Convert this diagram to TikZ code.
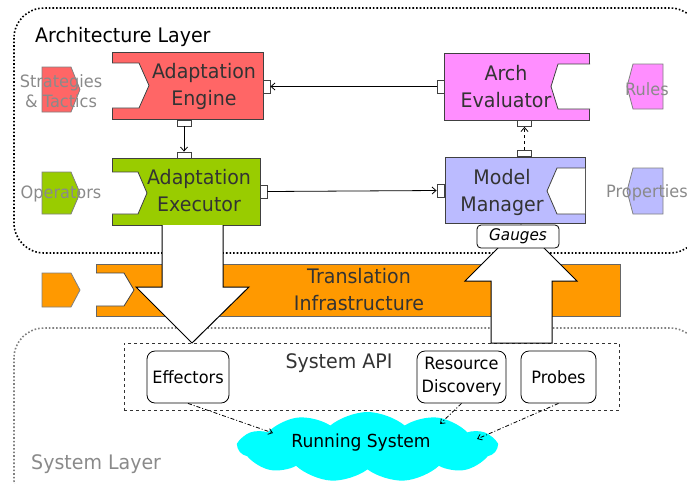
\documentclass[tikz,border=0pt]{standalone}
\usepackage{fontspec}
\setmainfont{DejaVu Sans}[FakeStretch=0.95]
\usetikzlibrary{shapes.symbols,arrows.meta}
\definecolor{engred}{HTML}{FF6666}
\definecolor{exegreen}{HTML}{99CC00}
\definecolor{evalpink}{HTML}{FF8EFF}
\definecolor{mmblue}{HTML}{BBBBFF}
\definecolor{orng}{HTML}{FF9900}
\definecolor{cloudcyan}{HTML}{00FFFF}
\definecolor{boxline}{HTML}{404040}
\definecolor{txt}{HTML}{333333}
\definecolor{sidetxt}{HTML}{8A8A8A}
\begin{document}
\begin{tikzpicture}[x=1pt,y=-1pt,
  comp/.style={draw=boxline, line width=0.8pt, inner sep=0},
  hport/.style={draw=boxline, fill=white, line width=0.8pt, inner sep=0, minimum width=7pt, minimum height=13pt},
  vport/.style={draw=boxline, fill=white, line width=0.8pt, inner sep=0, minimum width=14pt, minimum height=6pt},
  inport/.style={draw=boxline, fill=white, line width=0.8pt},
  sidetag/.style={draw=gray, line width=0.8pt},
  lbl/.style={font=\fontsize{20}{27}\selectfont, text=txt, align=center, inner sep=0},
  sidelbl/.style={font=\fontsize{17}{20}\selectfont, text=sidetxt, align=center, inner sep=0},
  conn/.style={draw=black, line width=0.8pt, -{Straight Barb[length=4pt,width=7pt]}},
  ddconn/.style={draw=black, line width=0.8pt, dash pattern=on 4pt off 2pt on 1pt off 2pt, -{Straight Barb[length=4pt,width=6pt]}},
  sysbox/.style={draw=black, line width=0.8pt, rounded corners=8pt, inner sep=0, fill=white, font=\fontsize{17}{23}\selectfont, align=center},
  bigarrow/.style={draw=black, fill=white, line width=1pt, line join=miter}
]
\useasboundingbox (0,0) rectangle (687,483);
\clip (0,0) rectangle (687,483);

% layers
\draw[black, line width=1.6pt, dotted, rounded corners=30pt] (14,8) rectangle (700,253);
\draw[gray, line width=1.6pt, dotted, rounded corners=30pt] (14,328) rectangle (700,510);
\node[anchor=west, font=\fontsize{20}{24}\selectfont, inner sep=0] (archt) at (35,37) {Architecture Layer};
\node[anchor=west, font=\fontsize{20}{24}\selectfont, text=sidetxt, inner sep=0] (syst) at (31,464) {System Layer};

% translation infrastructure band
\node[comp, draw=boxline!80, fill=orng, minimum width=524pt, minimum height=52pt] (trans) at (358,290) {};
\draw[inport] (96,273) -- (124,273) -- (134,290) -- (124,306) -- (96,306);
\draw[sidetag, fill=orng] (42,273) -- (71,273) -- (80,290) -- (71,307) -- (42,307) -- cycle;
\node[lbl] (translbl) at (359,290) {Translation\\Infrastructure};

% Adaptation Engine
\node[comp, fill=engred, minimum width=151pt, minimum height=67pt] (eng) at (187.5,85.5) {};
\draw[inport] (112,63) -- (139,63) -- (149,85.5) -- (139,108) -- (112,108);
\node[lbl] (englbl) at (204,86) {Adaptation\\Engine};
\node[hport] (engR) at (266.5,86.5) {};
\node[vport] (engB) at (184,123) {};

% Adaptation Executor
\node[comp, fill=exegreen, minimum width=148pt, minimum height=67pt] (exe) at (186,191.5) {};
\draw[inport] (112,172) -- (138,172) -- (147,193) -- (138,214) -- (112,214);
\node[lbl] (exelbl) at (199,191) {Adaptation\\Executor};
\node[hport] (exeR) at (263.5,191.5) {};
\node[vport] (exeT) at (184,155) {};

% Arch Evaluator
\node[comp, fill=evalpink, minimum width=145pt, minimum height=67pt] (eval) at (516.5,86.5) {};
\draw[inport] (590,64) -- (558,64) -- (551,86.5) -- (558,109) -- (590,109);
\node[lbl] (evallbl) at (506,87) {Arch\\Evaluator};
\node[hport] (evalL) at (441,86.5) {};
\node[vport] (evalB) at (524.5,123.5) {};

% Model Manager
\node[comp, fill=mmblue, minimum width=140pt, minimum height=66pt] (mm) at (515,190) {};
\draw[inport] (585,168) -- (557,168) -- (547,191) -- (557,214) -- (585,214);
\node[lbl] (mmlbl) at (502,192) {Model\\Manager};
\node[hport] (mmL) at (440.5,190.5) {};
\node[vport] (mmT) at (524.5,153.5) {};

% side tags
\draw[sidetag, fill=engred] (42,67) -- (71,67) -- (80,89.5) -- (71,112) -- (42,112) -- cycle;
\node[sidelbl] (stratlbl) at (61,91) {Strategies\\\& Tactics};
\draw[sidetag, fill=exegreen] (42,172) -- (71,172) -- (80,193) -- (71,214) -- (42,214) -- cycle;
\node[sidelbl] (oplbl) at (61,194) {Operators};
\draw[sidetag, fill=evalpink] (663,64) -- (633,64) -- (627,86.5) -- (633,109) -- (663,109) -- cycle;
\node[sidelbl] (ruleslbl) at (647,89) {Rules};
\draw[sidetag, fill=mmblue] (663,168) -- (633,168) -- (627,191) -- (633,214) -- (663,214) -- cycle;
\node[sidelbl] (proplbl) at (647,193) {Properties};

% connectors in architecture layer
\draw[conn] (evalL.west) -- (engR.east);
\draw[conn] (engB.south) -- (exeT.north);
\draw[conn] (exeR.east) -- (mmL.west);
\draw[conn, dashed] (mmT.north) -- (evalB.south);

% System API
\node[draw=black!80, dashed, line width=0.8pt, minimum width=495pt, minimum height=67pt, inner sep=0] (api) at (371.5,376.5) {};
\node[font=\fontsize{20}{24}\selectfont, text=txt, inner sep=0] (apilbl) at (339,363) {System API};

% big arrows
\draw[bigarrow] (162,225) -- (162,287) -- (136,287) -- (192,343) -- (249,287) -- (223,287) -- (223,225);
\draw[bigarrow] (491,343) -- (491,281) -- (465,281) -- (521,225) -- (577,281) -- (552,281) -- (552,343) -- cycle;

% Gauges
\node[draw=black, line width=0.8pt, fill=white, rounded corners=4pt, minimum width=82pt, minimum height=23pt, inner sep=0, font=\itshape\fontsize{16}{18}\selectfont] (gauges) at (518,236.5) {Gauges};

% system elements
\node[sysbox, minimum width=82pt, minimum height=52pt] (eff) at (188,377) {Effectors};
\node[sysbox, minimum width=89pt, minimum height=52pt] (rd) at (461.5,377) {Resource\\Discovery};
\node[sysbox, minimum width=75pt, minimum height=52pt] (pr) at (558.5,377) {Probes};

% running system cloud
\node[cloud, fill=cloudcyan, draw=none, cloud puffs=11, cloud puff arc=80, cloud ignores aspect, minimum width=258pt, minimum height=70pt, inner sep=0] (cloud) at (367.5,447) {};
\node[font=\fontsize{18}{22}\selectfont, inner sep=0] (cloudlbl) at (361,443) {Running System};
\coordinate (c1) at (273,433);
\coordinate (c2) at (440,424);
\coordinate (c3) at (477,439);
\draw[ddconn] (eff.south) -- (c1);
\draw[ddconn] (rd.south) -- (c2);
\draw[ddconn] (pr.south) -- (c3);
\end{tikzpicture}
\end{document}
